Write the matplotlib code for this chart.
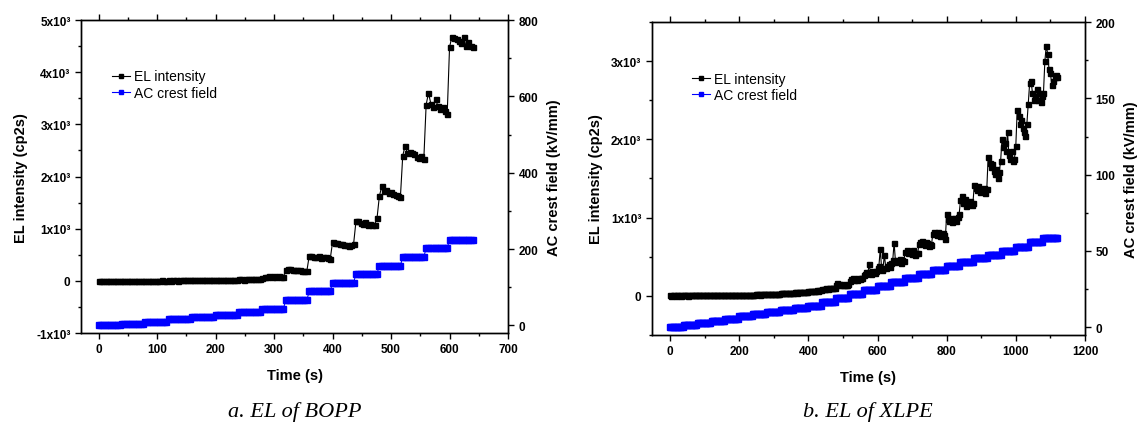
import numpy as np
import matplotlib.pyplot as plt
from matplotlib.ticker import MultipleLocator, FixedLocator
from matplotlib.lines import Line2D

plt.rcParams['font.family'] = ['Liberation Sans', 'DejaVu Sans']

# sampling: one EL reading every 4 s, field raised every 40 s
sample_dt = 4
step_samples = 10

# a. BOPP, EL intensity (cp2s), one row per 40 s step
bopp_el = [
    5, 3, 4, 2, 3, 5, 4, 3, 4, 5,
    4, 5, 3, 6, 5, 4, 6, 5, 4, 6,
    6, 5, 7, 6, 5, 7, 6, 8, 6, 7,
    8, 7, 9, 8, 7, 9, 10, 8, 9, 10,
    12, 11, 13, 12, 14, 12, 13, 15, 13, 14,
    18, 17, 19, 20, 18, 21, 19, 22, 20, 21,
    28, 30, 27, 32, 29, 31, 30, 33, 28, 32,
    65, 72, 80, 85, 78, 88, 84, 90, 80, 75,
    210, 225, 220, 215, 210, 205, 200, 195, 190, 185,
    470, 480, 450, 465, 470, 440, 455, 460, 430, 420,
    740, 725, 730, 710, 700, 690, 680, 660, 690, 710,
    1140, 1150, 1110, 1100, 1120, 1080, 1090, 1070, 1080, 1200,
    1620, 1810, 1720, 1750, 1680, 1700, 1660, 1650, 1630, 1610,
    2400, 2590, 2450, 2470, 2450, 2440, 2380, 2350, 2400, 2330,
    3380, 3600, 3400, 3330, 3490, 3350, 3300, 3340, 3260, 3200,
    4480, 4680, 4650, 4630, 4600, 4560, 4680, 4500, 4580, 4500, 4480,
]
# AC crest field (kV/mm) of each 40 s step
bopp_field = [0, 5, 10, 16, 22, 28, 34, 44, 66, 89, 112, 135, 157, 179, 203, 224]

# b. XLPE, EL intensity (cp2s)
xlpe_el = [
    2, 1, 3, 2, 1, 2, 3, 2, 1, 2,
    2, 3, 2, 1, 3, 2, 3, 2, 3, 2,
    3, 2, 4, 3, 2, 4, 3, 3, 4, 3,
    4, 3, 5, 4, 5, 4, 3, 5, 4, 5,
    6, 5, 7, 6, 5, 7, 8, 6, 7, 6,
    9, 10, 8, 11, 9, 10, 12, 10, 11, 12,
    14, 13, 16, 15, 17, 14, 16, 18, 15, 17,
    20, 22, 19, 24, 21, 23, 25, 22, 26, 24,
    30, 33, 28, 35, 32, 31, 36, 34, 33, 37,
    42, 45, 40, 48, 44, 46, 43, 49, 47, 50,
    58, 62, 55, 65, 60, 63, 67, 61, 66, 70,
    85, 90, 82, 95, 88, 92, 98, 93, 100, 96,
    130, 165, 150, 140, 135, 145, 138, 130, 142, 150,
    190, 210, 220, 200, 215, 205, 225, 210, 230, 220,
    260, 280, 300, 290, 400, 280, 310, 300, 290, 320,
    350, 380, 600, 330, 360, 520, 350, 380, 400, 370,
    420, 450, 680, 430, 460, 440, 470, 420, 450, 440,
    560, 590, 540, 570, 550, 530, 580, 520, 550, 540,
    660, 690, 700, 670, 650, 690, 680, 640, 660, 650,
    790, 820, 800, 780, 810, 760, 790, 800, 780, 720,
    1050, 980, 960, 1000, 940, 970, 990, 960, 1010, 1040,
    1220, 1280, 1180, 1240, 1150, 1200, 1170, 1210, 1160, 1190,
    1420, 1380, 1350, 1400, 1330, 1370, 1340, 1380, 1320, 1360,
    1780, 1700, 1650, 1680, 1600, 1560, 1620, 1510, 1580, 1720,
    2000, 1900, 1950, 1850, 2100, 1800, 1750, 1850, 1720, 1750,
    1920, 2380, 2300, 2200, 2250, 2150, 2100, 2050, 2200, 2450,
    2720, 2750, 2600, 2500, 2550, 2650, 2500, 2600, 2480, 2550,
    2600, 3000, 3200, 3100, 2900, 2850, 2700, 2750, 2800, 2820, 2800,
]
xlpe_field = [0, 1.3, 2.9, 4.3, 5.6, 7.1, 8.4, 9.9, 11.2, 12.5, 13.8, 16.5,
              19.3, 21.7, 24.3, 26.8, 29.5, 32.1, 34.6, 37.3, 39.9, 42.4,
              45.1, 47.6, 50.2, 52.8, 55.5, 58.6]

el_ticks_a = [-1000, 0, 1000, 2000, 3000, 4000, 5000]
el_labels_a = ['-1x10³', '0', '1x10³', '2x10³', '3x10³', '4x10³', '5x10³']
el_ticks_b = [0, 1000, 2000, 3000]
el_labels_b = ['0', '1x10³', '2x10³', '3x10³']

BLUE = '#0000ff'
tick_fs = 8.5
label_fs = 10.5


def draw_panel(rect, el, field, xlim, xmajor, ylim, yticks, ylabels,
               ylim2, y2major, caption, legend_xy):
    ax = fig.add_axes(rect)
    ax2 = ax.twinx()
    t = np.arange(len(el)) * sample_dt
    field_pts = np.append(np.repeat(field, step_samples), field[-1])

    ax.plot(t, el, color='black', lw=0.8, marker='s', ms=3.6,
            mec='black', mfc='black', zorder=3)
    ax2.plot(t, field_pts, color=BLUE, lw=0.8, marker='s', ms=4.0,
             mec=BLUE, mfc=BLUE)
    ax.set_zorder(ax2.get_zorder() + 1)
    ax.patch.set_visible(False)

    ax.set_xlim(*xlim)
    ax.set_ylim(*ylim)
    ax2.set_ylim(*ylim2)
    ax.xaxis.set_major_locator(MultipleLocator(xmajor))
    ax.xaxis.set_minor_locator(MultipleLocator(xmajor / 2))
    ax.yaxis.set_major_locator(FixedLocator(yticks))
    ax.set_yticklabels(ylabels)
    ax.yaxis.set_minor_locator(MultipleLocator(500))
    ax2.yaxis.set_major_locator(MultipleLocator(y2major))
    ax2.yaxis.set_minor_locator(MultipleLocator(y2major / 2))

    for a in (ax, ax2):
        a.tick_params(which='major', direction='out', length=4, width=1,
                      labelsize=tick_fs)
        a.tick_params(which='minor', direction='out', length=2.5, width=1)
        for s in a.spines.values():
            s.set_linewidth(1)
        for lab in a.get_xticklabels() + a.get_yticklabels():
            lab.set_fontweight('bold')
    ax.tick_params(axis='x', which='both', top=True, direction='out')

    ax.set_xlabel('Time (s)', fontsize=label_fs, fontweight='bold', labelpad=9)
    ax.set_ylabel('EL intensity (cp2s)', fontsize=label_fs, fontweight='bold',
                  labelpad=6)
    ax2.set_ylabel('AC crest field (kV/mm)', fontsize=label_fs,
                   fontweight='bold', labelpad=6)

    handles = [
        Line2D([], [], color='black', lw=0.8, marker='s', ms=3),
        Line2D([], [], color=BLUE, lw=0.8, marker='s', ms=3),
    ]
    ax.legend(handles, ['EL intensity', 'AC crest field'], loc='upper left',
              bbox_to_anchor=legend_xy, frameon=False, fontsize=10,
              handlelength=1.3, handletextpad=0.3, labelspacing=0.2,
              borderaxespad=0)

    cx = rect[0] + rect[2] / 2
    fig.text(cx, 0.062, caption, ha='center', va='center', fontsize=16,
             family='Liberation Serif', style='italic')
    return ax, ax2


fig = plt.figure(figsize=(11.44, 4.39), dpi=100)

draw_panel([0.0708, 0.239, 0.3733, 0.713], bopp_el, bopp_field,
           (-30, 700), 100, (-1000, 5000), el_ticks_a, el_labels_a,
           (-20, 800), 200, 'a. EL of BOPP', (0.06, 0.86))
draw_panel([0.5697, 0.2353, 0.3787, 0.7117], xlpe_el, xlpe_field,
           (-53, 1200), 200, (-500, 3500), el_ticks_b, el_labels_b,
           (-5, 200), 50, 'b. EL of XLPE', (0.08, 0.86))

fig.savefig('out.png', dpi=100)
